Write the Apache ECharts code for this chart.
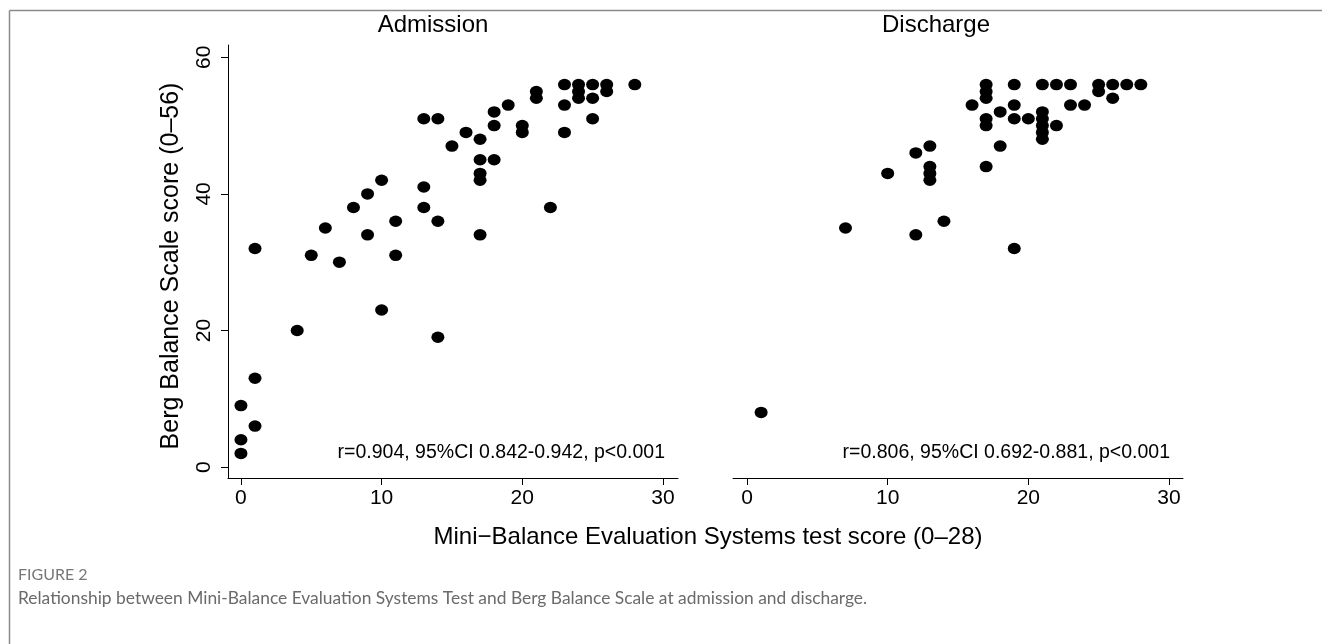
<!DOCTYPE html>
<html>
<head>
<meta charset="utf-8">
<script src="https://cdn.jsdelivr.net/npm/echarts@6/dist/echarts.min.js"></script>
<style>
html,body{margin:0;padding:0;background:#fff;}
#chart{width:1322px;height:644px;}
</style>
</head>
<body>
<div id="chart"></div>
<script>
// Data: [MiniBESTest score, BBS score]
const admissionPoints = [
  [0,2],[0,4],[0,9],[1,6],[1,13],[1,32],[4,20],[5,31],[6,35],[7,30],[8,38],[9,34],[9,40],
  [10,23],[10,42],[11,31],[11,36],[13,38],[13,41],[13,51],[14,19],[14,36],[14,51],[15,47],
  [16,49],[17,34],[17,42],[17,43],[17,45],[17,48],[18,45],[18,50],[18,52],[19,53],[20,49],
  [20,50],[21,54],[21,55],[22,38],[23,49],[23,53],[23,56],[24,54],[24,55],[24,56],[25,51],
  [25,54],[25,56],[26,55],[26,56],[28,56]
];
const dischargePoints = [
  [1,8],[7,35],[10,43],[12,34],[12,46],[13,42],[13,43],[13,44],[13,47],[14,36],[16,53],
  [17,44],[17,50],[17,51],[17,54],[17,55],[17,56],[18,47],[18,52],[19,32],[19,51],[19,53],
  [19,56],[20,51],[21,48],[21,49],[21,50],[21,51],[21,52],[21,56],[22,50],[22,56],[23,53],
  [23,56],[24,53],[25,55],[25,56],[26,54],[26,56],[27,56],[28,56]
];
const panelTitles = ['Admission', 'Discharge'];
const xTicks = [0, 10, 20, 30];
const yTicks = [0, 20, 40, 60];
const statTexts = ['r=0.904, 95%CI 0.842-0.942, p<0.001', 'r=0.806, 95%CI 0.692-0.881, p<0.001'];
const xTitle = 'Mini\u2212Balance Evaluation Systems test score (0\u201328)';
const yTitle = 'Berg Balance Scale score (0\u201356)';
const captionHead = 'FIGURE 2';
const captionBody = 'Relationship between Mini-Balance Evaluation Systems Test and Berg Balance Scale at admission and discharge.';

const FONT = '"Liberation Sans", Arial, sans-serif';
const CAPFONT = 'Lato, "Open Sans", sans-serif';
const chart = echarts.init(document.getElementById('chart'), null, {renderer: 'canvas'});

const grids = [
  {left: 228, top: 45, width: 450, height: 433},
  {left: 733, top: 45, width: 450, height: 433}
];

function xAxisFor(i, minV, maxV) {
  return {
    type: 'value', gridIndex: i, min: minV, max: maxV,
    axisLine: {show: true, onZero: false, lineStyle: {color: '#000', width: 1}},
    axisTick: {show: true, length: 7, inside: false, customValues: xTicks, lineStyle: {color: '#000'}},
    axisLabel: {show: true, customValues: xTicks, margin: 10, fontSize: 21, color: '#000', fontFamily: FONT},
    splitLine: {show: false}
  };
}
function yAxisFor(i, show) {
  return {
    type: 'value', gridIndex: i, min: -1.6, max: 61.8, show: show,
    axisLine: {show: true, onZero: false, lineStyle: {color: '#000', width: 1}},
    axisTick: {show: true, length: 7, customValues: yTicks, lineStyle: {color: '#000'}},
    axisLabel: {show: true, customValues: yTicks, rotate: 90, margin: 13, fontSize: 21, color: '#000', fontFamily: FONT},
    splitLine: {show: false}
  };
}

const option = {
  backgroundColor: '#fff',
  animation: false,
  grid: grids,
  xAxis: [xAxisFor(0, -0.92, 31.07), xAxisFor(1, -1.0, 31.0)],
  yAxis: [yAxisFor(0, true), yAxisFor(1, false)],
  title: [
    {text: panelTitles[0], left: 428, top: 8, textAlign: 'center', textStyle: {fontSize: 24, fontWeight: 'normal', color: '#000', fontFamily: FONT}},
    {text: panelTitles[1], left: 931, top: 8, textAlign: 'center', textStyle: {fontSize: 24, fontWeight: 'normal', color: '#000', fontFamily: FONT}}
  ],
  series: [
    {type: 'scatter', xAxisIndex: 0, yAxisIndex: 0, data: admissionPoints, symbol: 'circle', symbolSize: [13, 11.5], itemStyle: {color: '#000', opacity: 1}},
    {type: 'scatter', xAxisIndex: 1, yAxisIndex: 1, data: dischargePoints, symbol: 'circle', symbolSize: [13, 11.5], itemStyle: {color: '#000', opacity: 1}}
  ],
  graphic: [
    {type: 'line', shape: {x1: 9.5, y1: 10.5, x2: 1322, y2: 10.5}, style: {stroke: '#8a8a8a', lineWidth: 1.5}},
    {type: 'line', shape: {x1: 9.5, y1: 10.5, x2: 9.5, y2: 644}, style: {stroke: '#8a8a8a', lineWidth: 1.5}},
    {type: 'text', x: 665, y: 453, style: {text: statTexts[0], fontSize: 19.5, fill: '#000', fontFamily: FONT, align: 'right', verticalAlign: 'middle'}},
    {type: 'text', x: 1170, y: 453, style: {text: statTexts[1], fontSize: 19.5, fill: '#000', fontFamily: FONT, align: 'right', verticalAlign: 'middle'}},
    {type: 'text', x: 708, y: 537, style: {text: xTitle, fontSize: 24, fill: '#000', fontFamily: FONT, align: 'center', verticalAlign: 'middle'}},
    {type: 'text', x: 171, y: 266, rotation: Math.PI / 2, style: {text: yTitle, fontSize: 25, fill: '#000', fontFamily: FONT, align: 'center', verticalAlign: 'middle'}},
    {type: 'text', x: 18, y: 575, style: {text: captionHead, fontSize: 16, fill: '#777', fontFamily: CAPFONT, align: 'left', verticalAlign: 'middle'}},
    {type: 'text', x: 18, y: 598, style: {text: captionBody, fontSize: 17.4, fill: '#6a6a6a', fontFamily: CAPFONT, align: 'left', verticalAlign: 'middle'}}
  ]
};
chart.setOption(option);
</script>
</body>
</html>
